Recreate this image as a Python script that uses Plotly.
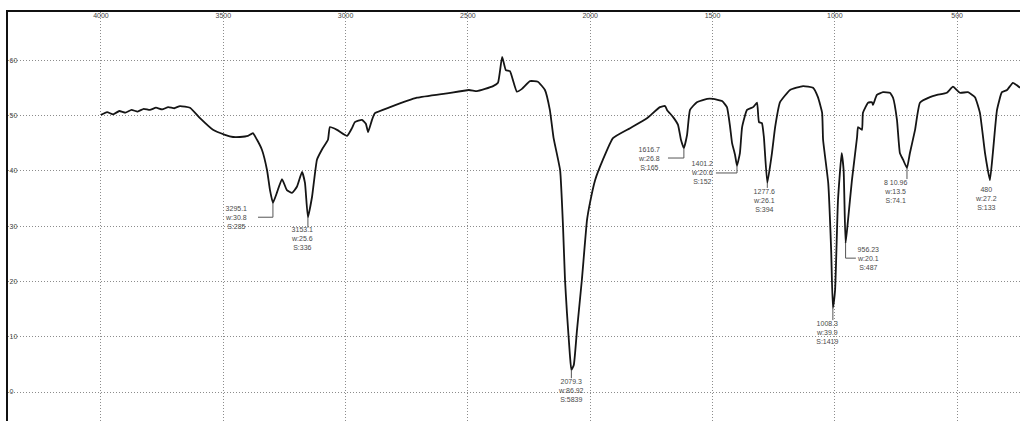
import plotly.graph_objects as go

# IR transmittance spectrum, wavenumber (cm-1) vs %T
wavenumber = [
    4000, 3975, 3950, 3925, 3900, 3875, 3850, 3825, 3800, 3775, 3750, 3725, 3700, 3677,
    3636, 3595, 3542, 3493, 3460, 3432, 3399, 3379, 3362, 3342, 3321, 3309, 3297, 3281,
    3260, 3240, 3219, 3199, 3178, 3166, 3154, 3137, 3117, 3097, 3072, 3064, 3035, 2994,
    2974, 2962, 2933, 2917, 2908, 2892, 2880, 2818, 2708, 2585, 2496, 2463, 2430, 2397,
    2377, 2360, 2345, 2328, 2300, 2279, 2246, 2214, 2185, 2165, 2150, 2123, 2111,
    2103, 2095, 2083, 2077, 2067, 2054, 2034, 2013, 2001, 1980, 1948, 1907, 1837, 1768,
    1715, 1694, 1686, 1661, 1641, 1629, 1617, 1604, 1592, 1564, 1522, 1498, 1461, 1441,
    1428, 1420, 1408, 1400, 1388, 1379, 1359, 1334, 1318, 1310, 1298, 1290, 1276, 1257,
    1244, 1224, 1183, 1130, 1089, 1069, 1052, 1048, 1027, 1015, 1008, 999, 987, 972,
    964, 956, 946, 930, 909, 905, 889, 885, 864, 848, 844, 828, 803, 775, 762, 746,
    734, 721, 705, 693, 672, 652, 611, 582, 542, 517, 489, 456, 427, 407, 386, 366,
    354, 337, 317, 296, 272, 243,
]
transmittance = [
    50.1, 50.6, 50.2, 50.8, 50.5, 51.0, 50.7, 51.2, 51.0, 51.4, 51.1, 51.5, 51.3, 51.7,
    51.4, 49.5, 47.4, 46.5, 46.1, 46.1, 46.3, 46.8, 45.6, 43.8, 40.1, 36.5, 34.2, 36.0,
    38.5, 36.5, 36.0, 37.1, 39.8, 37.8, 31.6, 35.3, 42.0, 43.8, 45.6, 47.9, 47.4, 46.3,
    47.7, 48.8, 49.2, 48.5, 47.0, 49.2, 50.4, 51.5, 53.2, 54.0, 54.6, 54.4, 54.8, 55.3,
    55.9, 60.6, 58.2, 58.0, 54.3, 54.8, 56.2, 56.1, 54.6, 51.0, 46.0, 40.1, 29.8,
    20.3, 14.3, 6.7, 4.0, 4.9, 11.2, 20.3, 31.1, 34.2, 38.3, 42.0, 45.9, 47.7, 49.5,
    51.5, 51.7, 51.0, 49.7, 48.3, 45.6, 44.1, 46.5, 51.0, 52.4, 53.0, 53.0, 52.6, 51.5,
    47.9, 45.0, 42.9, 40.9, 43.2, 47.9, 51.0, 51.5, 52.3, 48.8, 48.6, 46.1, 37.8, 43.2,
    47.9, 52.4, 54.6, 55.3, 55.0, 53.3, 50.5, 45.6, 37.8, 25.7, 15.2, 18.4, 34.7, 43.2,
    40.1, 26.9, 31.1, 38.3, 46.1, 47.9, 47.4, 50.5, 52.3, 52.4, 51.9, 53.7, 54.2, 54.1, 53.2, 49.2,
    43.2, 42.0, 40.5, 43.2, 47.4, 52.3, 53.3, 53.7, 54.1, 55.2, 54.1, 54.2, 53.3, 50.5, 43.2, 38.3,
    43.2, 51.0, 54.2, 54.6, 55.9, 55.0,
]

# Peak annotations: label text, text-block centre, and leader-line vertices
peak_labels = [
    "3295.1<br>w:30.8<br>S:285",
    "3153.1<br>w:25.6<br>S:336",
    "2079.3<br>w:86.92<br>S:5839",
    "1616.7<br>w:26.8<br>S:165",
    "1401.2<br>w:20.6<br>S:152",
    "1277.6<br>w:26.1<br>S:394",
    "1008.3<br>w:39.9<br>S:1419",
    "956.23<br>w:20.1<br>S:487",
    "8 10.96<br>w:13.5<br>S:74.1",
    "480<br>w:27.2<br>S:133",
]
label_x = [3448, 3178, 2080, 1760, 1543, 1290, 1028, 865, 750, 382]
label_y = [31.6, 27.7, 0.2, 42.3, 39.6, 34.7, 10.8, 24.2, 36.2, 34.9]
leaders = [
    [(3297, 34.2), (3297, 31.6), (3358, 31.6)],
    [(3154, 31.6), (3154, 29.7)],
    [(2077, 4.0), (2077, 2.5)],
    [(1617, 44.1), (1617, 42.3), (1682, 42.3)],
    [(1400, 40.9), (1400, 39.6), (1486, 39.6)],
    [(1276, 37.8), (1276, 36.9)],
    [(1008, 15.2), (1008, 13.0)],
    [(956, 26.9), (956, 24.2), (914, 24.2)],
    [(705, 40.5), (705, 38.5)],
]

x_ticks = [4000, 3500, 3000, 2500, 2000, 1500, 1000, 500]
y_ticks = [0, 10, 20, 30, 40, 50, 60]

fig = go.Figure()
fig.add_trace(go.Scatter(
    x=wavenumber, y=transmittance, mode="lines",
    line=dict(color="#151515", width=1.8, shape="spline", smoothing=0.4),
    hoverinfo="skip", showlegend=False,
))

for pts in leaders:
    path = "M " + " L ".join(f"{x},{y}" for x, y in pts)
    fig.add_shape(type="path", path=path, xref="x", yref="y",
                  line=dict(color="#555555", width=1))

for text, x, y in zip(peak_labels, label_x, label_y):
    fig.add_annotation(x=x, y=y, xref="x", yref="y", text=text, showarrow=False,
                       align="center", xanchor="center", yanchor="middle",
                       font=dict(family="Liberation Sans, Arial", size=7, color="#4a4a4a"))

grid = dict(showgrid=True, gridcolor="#8c8c8c", griddash="1px,2px", gridwidth=1, zeroline=False)

fig.update_layout(
    width=1020, height=421,
    margin=dict(l=8, r=0, t=12, b=0),
    paper_bgcolor="white", plot_bgcolor="white",
    font=dict(family="Liberation Sans, Arial", size=7, color="#6a6a6a"),
    xaxis=dict(range=[4380, 243], side="top", tickvals=x_ticks, ticklabelposition="inside",
               ticks="", showline=True, linecolor="#111111", linewidth=2, **grid),
    yaxis=dict(range=[-5.24, 68.7], tickvals=y_ticks, ticklabelposition="inside",
               ticks="", showline=True, linecolor="#111111", linewidth=2, **grid),
)

fig.write_html("out.html")
